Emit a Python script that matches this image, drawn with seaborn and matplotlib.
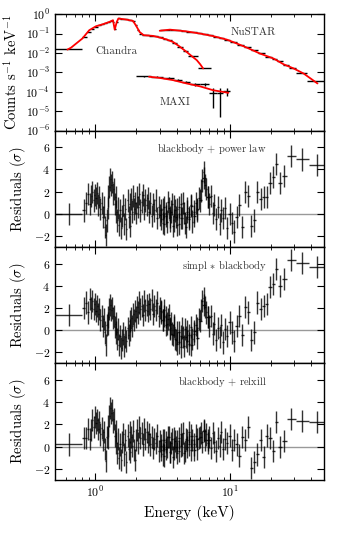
import numpy as np
import matplotlib
matplotlib.use('Agg')
import matplotlib.pyplot as plt
import matplotlib.ticker as mticker
import seaborn as sns

# ---- top panel: count spectra (keV, counts s^-1 keV^-1)
chandra_edges = [0.50, 0.80, 0.86, 0.92, 0.98, 1.04, 1.10, 1.16, 1.22, 1.28, 1.34, 1.37,
                 1.41, 1.46, 1.52, 1.62, 1.74, 1.86, 1.96, 2.04, 2.12, 2.22, 2.35, 2.5,
                 2.7, 2.9, 3.15, 3.4, 3.7, 4.0, 4.45, 4.9, 5.8, 7.2]
chandra_counts = [0.017, 0.07, 0.12, 0.18, 0.23, 0.27, 0.30, 0.34, 0.39, 0.45, 0.42,
                  0.18, 0.38, 0.62, 0.60, 0.55, 0.52, 0.46, 0.28, 0.15, 0.10, 0.084,
                  0.080, 0.077, 0.071, 0.063, 0.054, 0.045, 0.034, 0.021, 0.012,
                  0.0069, 0.0017]
chandra_model_e = [0.62, 0.66, 0.72, 0.80, 0.90, 1.01, 1.13, 1.27, 1.35, 1.39, 1.44, 1.48,
                   1.69, 1.90, 2.00, 2.13, 2.28, 2.68, 3.00, 3.37, 3.77, 4.20, 4.75, 5.20,
                   5.65, 6.00, 6.30]
chandra_model = [0.015, 0.019, 0.031, 0.056, 0.15, 0.24, 0.30, 0.40, 0.49, 0.16, 0.40,
                 0.60, 0.53, 0.45, 0.26, 0.12, 0.083, 0.076, 0.063, 0.050, 0.037, 0.022,
                 0.0114, 0.0068, 0.0043, 0.0026, 0.0016]

nustar_edges = [3.0, 3.3, 3.6, 3.9, 4.3, 4.7, 5.2, 5.7, 6.2, 6.8, 7.5, 8.2, 9.0, 10.0,
                11.2, 12.6, 14.2, 16.0, 18.2, 20.6, 22.4, 24.8, 27.5, 31, 37.5, 50]
nustar_counts = [0.15, 0.16, 0.158, 0.15, 0.138, 0.125, 0.114, 0.103, 0.094, 0.08, 0.068,
                 0.058, 0.048, 0.037, 0.027, 0.020, 0.014, 0.0095, 0.0065, 0.0049,
                 0.0037, 0.0025, 0.0017, 0.00098, 0.00038]
nustar_model_e = [3.0, 3.57, 4.75, 6.0, 7.5, 9.45, 10.5, 13.3, 16.7, 21, 25, 29.6, 35.2, 44.5]
nustar_model = [0.14, 0.16, 0.13, 0.10, 0.074, 0.049, 0.037, 0.019, 0.0093, 0.0052,
                0.0026, 0.0016, 0.00087, 0.00027]

maxi_edges = [2.0, 2.6, 3.2, 3.8, 4.4, 5.0, 6.0, 7.0, 8.0, 8.9, 10.0]
maxi_counts = [6.3e-4, 6.0e-4, 5.3e-4, 4.2e-4, 3.2e-4, 2.5e-4, 2.5e-4, 8.5e-5, 8.5e-5, 1.1e-4]
maxi_err = [2e-5, 2e-5, 2e-5, 2.5e-5, 3e-5, 4e-5, 4e-5, 7e-5, 8e-5, 5e-5]
maxi_model_e = [2.5, 3.0, 3.77, 4.75, 6.0, 7.5, 9.7]
maxi_model = [6.0e-4, 5.2e-4, 4.0e-4, 2.7e-4, 1.9e-4, 1.2e-4, 8.9e-5]

# ---- residual panels (sigma), same binning for all three fits
res_chandra_edges = [0.50, 0.80, 0.835, 0.865, 0.895, 0.92, 0.94, 0.96, 0.98, 1.00, 1.02,
                     1.04, 1.06, 1.08, 1.10, 1.12, 1.14, 1.16, 1.18, 1.20, 1.22, 1.24,
                     1.26, 1.28, 1.30, 1.32, 1.34, 1.36, 1.38, 1.40, 1.42, 1.44, 1.46,
                     1.48, 1.50, 1.535, 1.565, 1.595, 1.625, 1.655, 1.685, 1.715, 1.745,
                     1.775, 1.805, 1.835, 1.865, 1.895, 1.925, 1.955, 1.985, 2.02, 2.06,
                     2.10, 2.14, 2.18, 2.225, 2.275, 2.325, 2.375, 2.425, 2.475, 2.53,
                     2.59, 2.65, 2.71, 2.77, 2.835, 2.905, 2.975, 3.045, 3.12, 3.20, 3.28,
                     3.36, 3.45, 3.55, 3.65, 3.75, 3.86, 3.98, 4.10, 4.23, 4.37, 4.52,
                     4.69, 4.87, 5.05, 5.27, 5.55, 5.85, 6.20, 6.65, 7.15]
res_nustar_edges = [3.00, 3.10, 3.20, 3.30, 3.40, 3.50, 3.60, 3.70, 3.80, 3.90, 4.00, 4.12,
                    4.24, 4.36, 4.48, 4.61, 4.75, 4.89, 5.03, 5.18, 5.33, 5.48, 5.63, 5.79,
                    5.95, 6.11, 6.27, 6.43, 6.59, 6.75, 6.92, 7.10, 7.30, 7.51, 7.74, 7.98,
                    8.23, 8.48, 8.75, 9.05, 9.37, 9.72, 10.1, 10.5, 10.95, 11.45, 12.0,
                    12.6, 13.3, 14.0, 14.7, 15.5, 16.4, 17.3, 18.2, 19.2, 20.3, 21.4, 22.7,
                    24.3, 26.3, 30.6, 38.6, 51.0]

pl_chandra = [0.0, 0.3, 1.0, 1.8, 0.9, 1.6, 2.0, 1.2, 1.7, 1.4,
              1.9, 0.8, 1.5, 0.4, 1.0, -0.3, 0.6, -1.2, -1.9, -0.6,
              0.5, 1.6, 2.4, 3.1, 2.6, 2.9, 1.8, 2.2, 0.9, 1.5,
              0.2, -0.6, 0.5, -1.0, 0.3, -1.3, -0.2, 0.8, -0.9, 0.4,
              -1.4, 1.2, -0.3, 0.9, -1.1, 1.3, 0.2, 1.6, 0.4, 1.0,
              0.1, 1.5, 0.6, 1.8, 0.3, 1.1, 1.7, 0.4, 1.2, 0.8,
              1.4, 0.2, 1.0, -0.2, 0.9, 0.3, 1.2, -0.4, 0.6, -0.1,
              -0.5, 0.4, -0.9, 0.1, -0.7, 0.5, -0.3, 0.9, -0.6, 0.3,
              -1.0, 0.6, -0.4, 1.0, -0.8, 0.2, -0.5, 0.7, -0.2, 0.4,
              1.2, 3.2, 1.5]
pl_nustar = [0.3, -0.8, 0.6, -0.2, 1.1, -0.6, 0.2, -1.1, 0.7, -0.3,
             0.4, -0.9, 0.9, -0.4, 0.1, -1.2, 0.5, -0.3, 0.8, -0.7,
             0.2, 1.0, 0.3, 1.4, 2.1, 3.0, 3.8, 2.6, 2.2, 1.5,
             0.9, 1.6, 0.1, 0.8, -0.5, 0.6, -0.9, 0.3, -0.4, 0.5,
             -1.3, 0.0, -0.8, -1.6,
             -0.3, 0.8, -1.2, 2.0, 1.6, -1.1, -0.6, 2.0, 1.3, 1.5,
             1.5, 2.8, 3.3, 4.5, 2.8, 3.4, 5.2, 4.9, 4.4]

simpl_chandra = [1.4, 2.0, 2.5, 1.6, 2.8, 2.0, 2.6, 1.9, 2.4, 1.7,
                 2.2, 1.5, 1.9, 0.9, 1.3, 0.4, 1.0, -0.2, -1.3, 0.5,
                 0.6, 1.2, 1.9, 2.3, 1.8, 2.0, 1.1, 1.3, 0.3, 0.6,
                 -0.2, -0.8, 0.1, -1.3, -0.5, -1.6, -0.9, -0.3, -1.4, -0.6,
                 -1.0, 0.2, -0.4, 0.8, 0.0, 1.1, 0.4, 1.5, 0.9, 1.7,
                 1.2, 2.1, 1.6, 2.5, 1.9, 2.2, 1.4, 2.6, 1.8, 2.3,
                 1.7, 2.4, 1.9, 2.7, 1.5, 2.2, 1.8, 2.5, 1.3, 2.0,
                 1.6, 0.9, 1.8, 1.2, 0.6, 1.4, 0.2, -0.3, 0.5, -0.8,
                 -1.2, -0.2, -1.5, -0.6, 0.1, -1.0, -0.4, -1.3, -0.1, -0.7,
                 0.8, 2.3, 1.2]
simpl_nustar = [1.7, 0.9, 1.3, 0.5, 1.0, 0.1, 0.6, -0.4, 0.3, -0.9,
                -0.2, -1.1, -0.5, 0.2, -1.4, -0.6, -0.1, -1.2, 0.3, -0.8,
                -0.3, 0.5, 0.2, 1.0, 1.8, 2.6, 2.9, 2.1, 1.6, 1.2,
                0.4, 1.3, -0.3, 0.6, -0.9, 0.2, -0.6, 0.5, -1.1, 0.1,
                -0.5, 0.7, -0.2, -1.0,
                0.4, 1.3, -0.4, 2.1, 1.6, -0.9, -0.2, 2.5, 1.9, 2.2,
                2.4, 3.9, 4.2, 5.5, 4.0, 4.6, 6.3, 6.1, 5.7]

relxill_chandra = [0.2, 0.75, 0.8, 1.6, 0.7, 1.5, 2.4, 1.8, 2.7, 2.1,
                   2.4, 1.6, 2.2, 1.1, 1.7, 0.6, 1.3, -0.2, -1.3, 0.9,
                   0.8, 1.9, 2.8, 3.5, 3.0, 3.3, 2.2, 2.5, 1.0, 1.4,
                   0.3, -0.6, 0.7, -1.0, 0.2, -1.2, 0.4, 1.1, -0.7, 0.6,
                   -1.4, 1.0, -0.2, 1.3, -0.5, 0.9, 0.1, 1.4, -0.3, -1.2,
                   0.6, 1.5, 0.3, 1.8, 0.8, 1.2, 0.2, 1.6, 0.7, 1.3,
                   0.4, 1.1, 0.2, 0.9, -0.1, 0.7, 0.3, 1.0, -0.4, 0.5,
                   -0.3, 0.6, -0.8, 0.4, 0.0, 0.9, -0.5, 0.7, -0.2, 0.5,
                   -0.6, 0.8, 0.1, 1.2, -0.4, 0.6, 0.2, 1.0, -0.3, 0.7,
                   0.9, 1.4, 0.6]
relxill_nustar = [0.1, -0.7, 0.6, -0.2, 0.9, -0.5, 0.3, -0.9, 0.8, 0.0,
                  0.5, -0.4, 1.1, 0.2, -0.6, 0.7, 0.0, 1.3, -0.3, 0.6,
                  0.2, 1.0, -0.2, 0.8, 1.2, 0.4, 1.5, 0.6, 1.1, 0.3,
                  0.9, -0.1, 1.2, 0.4, -0.4, 0.8, 0.1, 1.3, -0.2, 0.7,
                  0.3, 1.0, -0.3, 0.6,
                  0.2, -0.8, 0.9, 0.6, 1.8, -1.9, -1.4, -0.7, 0.6, -0.9,
                  1.0, 0.8, -0.4, 2.2, 0.0, 0.5, 2.5, 2.35, 2.25]

fit_labels = [r'blackbody $+$ power law', r'simpl $*$ blackbody', r'blackbody $+$ relxill']
fits = [(pl_chandra, pl_nustar), (simpl_chandra, simpl_nustar), (relxill_chandra, relxill_nustar)]


def bins(edges):
    e = np.array(edges)
    lo, hi = e[:-1], e[1:]
    mid = np.sqrt(lo * hi)
    return mid, np.vstack([mid - lo, hi - mid])


sns.set_style('ticks')
plt.rcParams.update({
    'font.family': 'serif',
    'font.serif': ['cmr10', 'DejaVu Serif'],
    'mathtext.fontset': 'cm',
    'axes.formatter.use_mathtext': True,
    'axes.edgecolor': 'black',
    'axes.linewidth': 1.0,
    'text.color': 'black',
    'axes.labelcolor': 'black',
    'xtick.color': 'black',
    'ytick.color': 'black',
    'font.size': 8,
})

fig, axes = plt.subplots(4, 1, figsize=(3.41, 5.46), dpi=100, sharex=True,
                         gridspec_kw={'hspace': 0})
fig.subplots_adjust(left=0.161, right=0.951, top=0.974, bottom=0.121)

for ax in axes:
    ax.set_xscale('log')

# top panel
ax = axes[0]
ax.set_yscale('log')
for edges, counts, err in [(chandra_edges, chandra_counts, None),
                           (nustar_edges, nustar_counts, None),
                           (maxi_edges, maxi_counts, maxi_err)]:
    mid, xe = bins(edges)
    ax.errorbar(mid, counts, xerr=xe, yerr=err, fmt='none', ecolor='black', elinewidth=1.0)
for me, mv in [(chandra_model_e, chandra_model), (nustar_model_e, nustar_model),
               (maxi_model_e, maxi_model)]:
    sns.lineplot(x=me, y=mv, ax=ax, color='red', linewidth=1.3, sort=False,
                 estimator=None, legend=False, zorder=3)
ax.set_ylim(1e-6, 1)
ax.yaxis.set_major_locator(mticker.LogLocator(base=10, numticks=10))
ax.yaxis.set_minor_locator(mticker.NullLocator())
ax.set_ylabel(r'Counts s$^{-1}$ keV$^{-1}$', fontsize=10.5)
ax.text(1.43, 0.013, 'Chandra', fontsize=8, ha='center', va='center', color='0.2')
ax.text(14.9, 0.12, 'NuSTAR', fontsize=8, ha='center', va='center', color='0.2')
ax.text(3.9, 3e-5, 'MAXI', fontsize=8, ha='center', va='center', color='0.2')

# residual panels
for ax, (rc, rn), lab in zip(axes[1:], fits, fit_labels):
    ax.axhline(0, color='0.6', linewidth=1.0, zorder=0)
    for edges, res in [(res_chandra_edges, rc), (res_nustar_edges, rn)]:
        mid, xe = bins(edges)
        ax.errorbar(mid, res, xerr=xe, yerr=1, fmt='none', ecolor='black',
                    elinewidth=1.0, alpha=0.8)
    ax.set_ylim(-3, 7.5)
    ax.set_yticks([-2, 0, 2, 4, 6])
    ax.set_ylabel(r'Residuals ($\sigma$)', fontsize=10.5)
    ax.text(0.785, 0.84, lab, transform=ax.transAxes, ha='right', va='center',
            fontsize=7.5, color='0.2')

for ax in axes:
    ax.tick_params(which='both', direction='in', top=True, right=True, labelsize=8.5)
    ax.tick_params(which='major', length=5, width=0.8)
    ax.tick_params(which='minor', length=2.5, width=0.6)

axes[-1].set_xlim(0.5, 50)
axes[-1].xaxis.set_major_locator(mticker.LogLocator(base=10))
axes[-1].xaxis.set_major_formatter(mticker.LogFormatterMathtext())
axes[-1].xaxis.set_minor_locator(mticker.LogLocator(base=10, subs=np.arange(2, 10)))
axes[-1].xaxis.set_minor_formatter(mticker.NullFormatter())
axes[-1].set_xlabel('Energy (keV)', fontsize=11)
fig.align_ylabels(axes[1:])

fig.savefig('out.png', dpi=100)
